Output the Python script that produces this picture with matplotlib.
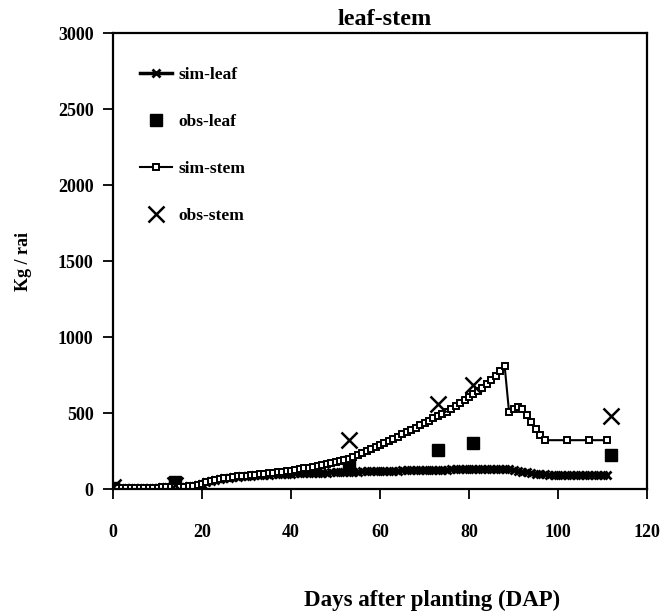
import matplotlib
matplotlib.use("Agg")
import matplotlib.pyplot as plt

# simulated leaf, daily from day 0 to 111
leaf_days = list(range(0, 112))
leaf_sim = [5, 5, 6, 6, 7, 7, 8, 8, 9, 10,
            10, 11, 12, 13, 14, 15, 17, 19, 22, 26,
            35, 45, 55, 62, 68, 72, 76, 79, 82, 84,
            86, 88, 90, 92, 94, 96, 97, 99, 100, 101,
            102, 103, 104, 104, 105, 106, 107, 108, 109, 110,
            110, 111, 112, 113, 114, 115, 116, 117, 118, 119,
            119, 120, 121, 122, 122, 123, 124, 125, 126, 126,
            127, 127, 128, 128, 129, 129, 130, 130, 131, 131,
            132, 132, 133, 133, 133, 133, 133, 133, 132, 130,
            126, 121, 115, 110, 106, 102, 99, 97, 96, 95,
            95, 95, 94, 94, 94, 94, 94, 94, 94, 94,
            94, 94]

# simulated stem, daily up to day 97 then sparse output
stem_days = list(range(0, 98)) + [102, 107, 111]
stem_sim = [5, 5, 6, 6, 7, 7, 8, 8, 9, 10,
            10, 11, 12, 13, 14, 15, 17, 19, 22, 26,
            35, 45, 55, 62, 68, 72, 76, 80, 83, 86,
            89, 92, 95, 98, 101, 104, 107, 110, 114, 118,
            122, 127, 132, 137, 142, 148, 154, 160, 166, 172,
            178, 184, 190, 198, 210, 222, 235, 248, 262, 276,
            290, 304, 318, 332, 346, 360, 375, 390, 405, 420,
            435, 450, 465, 480, 495, 510, 528, 546, 565, 585,
            605, 625, 645, 665, 690, 715, 745, 775, 810, 505,
            528, 540, 525, 485, 440, 395, 355, 322,
            322, 322, 322]

# observations
obs_days = [0, 14, 53, 73, 81, 112]
obs_leaf = [10, 45, 178, 257, 302, 224]
obs_stem = [15, 30, 322, 559, 684, 480]

plt.rcParams["font.family"] = "Liberation Serif"
plt.rcParams["font.weight"] = "bold"

fig = plt.figure(figsize=(6.65, 6.16), dpi=100)
ax = fig.add_axes([0.170, 0.206, 0.803, 0.740])

ax.plot(leaf_days, leaf_sim, color="black", lw=2.5, marker="x", ms=6, mew=2,
        label="sim-leaf")
ax.plot(obs_days, obs_leaf, ls="none", marker="s", ms=8, color="black",
        label="obs-leaf")
ax.plot(stem_days, stem_sim, color="black", lw=1.5, marker="s", ms=5, mew=1.4,
        mfc="white", label="sim-stem")
ax.plot(obs_days, obs_stem, ls="none", marker="x", ms=12, mew=1.8, color="black",
        label="obs-stem")

ax.set_xlim(0, 120)
ax.set_ylim(0, 3000)
ax.set_xticks([0, 20, 40, 60, 80, 100, 120])
ax.set_yticks([0, 500, 1000, 1500, 2000, 2500, 3000])
ax.tick_params(direction="out", length=7, width=1.3, labelsize=13)
ax.tick_params(axis="x", pad=18)
ax.tick_params(axis="y", pad=7)
for s in ax.spines.values():
    s.set_linewidth(1.6)

ax.set_title("leaf-stem", fontsize=17.5, fontweight="bold", pad=6, x=0.509)
ax.set_ylabel("Kg / rai", fontsize=13, fontweight="bold")
ax.yaxis.set_label_coords(-0.152, 0.5)
ax.set_xlabel("Days after planting (DAP)", fontsize=16.5, fontweight="bold")
ax.xaxis.set_label_coords(0.597, -0.222)

ax.legend(loc="upper left", bbox_to_anchor=(0.031, 0.95), frameon=False,
          fontsize=12.5, labelspacing=1.78, handlelength=1.85, handletextpad=0.35,
          borderaxespad=0.2)

fig.savefig("out.png", dpi=100)
